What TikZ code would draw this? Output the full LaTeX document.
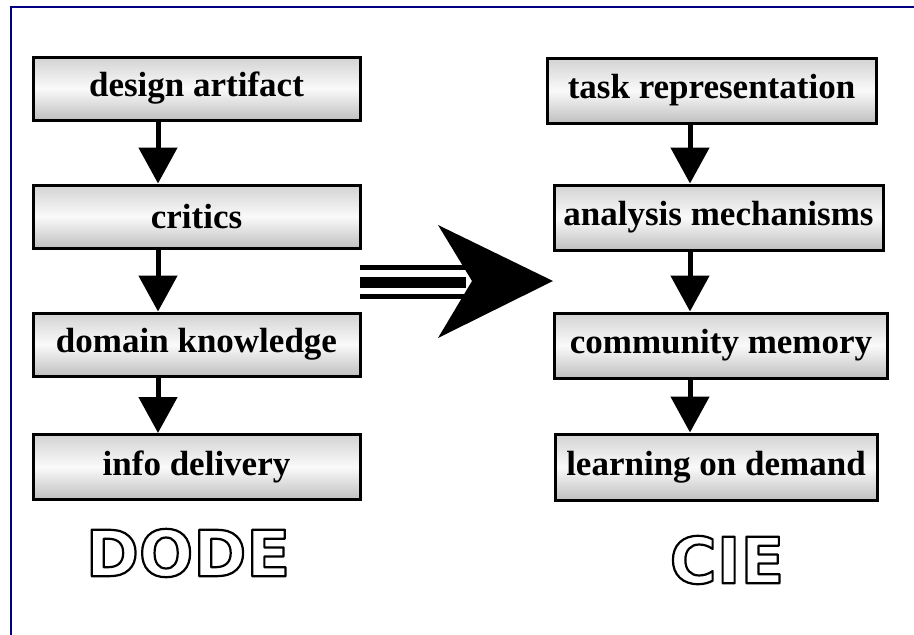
\documentclass[tikz,border=0pt]{standalone}
\usepackage{fontspec}
\setmainfont{Liberation Serif}
\newfontfamily\logofont{DejaVu Sans}
\usetikzlibrary{arrows.meta}
\definecolor{cadre}{RGB}{0,0,128}
\newcommand{\contourtexte}[1]{\special{pdf:literal direct 1 Tr 2.2 w 1 j}#1\special{pdf:literal direct 0 Tr}}
\tikzset{
  boite/.style={draw=black, line width=3pt, top color=gray!35, bottom color=gray!50,
    middle color=gray!4, inner sep=0pt, font=\bfseries\fontsize{35}{40}\selectfont},
  fleche/.style={line width=5pt, -{Triangle[length=36pt,width=38pt]}},
  logo/.style={font=\logofont\bfseries\fontsize{64}{70}\selectfont}
}
\begin{document}
\begin{tikzpicture}[x=1pt,y=-1pt]
    \useasboundingbox (0,0) rectangle (914,635);
    \draw[cadre, line width=2.5pt] (11,635) -- (11,7) -- (914,7);

    %colonne de gauche
    \node[boite, minimum width=327pt, minimum height=63pt] (artefact) at (196.5,88.5) {design artifact};
    \node[boite, minimum width=327pt, minimum height=63pt] (critiques) at (196.5,216.5) {critics};
    \node[boite, minimum width=327pt, minimum height=63pt] (domaine) at (196.5,344.5) {domain knowledge};
    \node[boite, minimum width=327pt, minimum height=65pt] (info) at (196.5,467) {info delivery};

    \coordinate (axeG) at (158,0);
    \draw[fleche] (artefact.south -| axeG) -- (critiques.north -| axeG);
    \draw[fleche] (critiques.south -| axeG) -- (domaine.north -| axeG);
    \draw[fleche] (domaine.south -| axeG) -- (info.north -| axeG);

    %colonne de droite
    \node[boite, minimum width=329pt, minimum height=65pt] (tache) at (711.5,90.5) {task representation};
    \node[boite, minimum width=329pt, minimum height=65pt] (analyse) at (718.5,217.5) {analysis mechanisms};
    \node[boite, minimum width=333pt, minimum height=65pt] (memoire) at (721,345.5) {community memory};
    \node[boite, minimum width=322pt, minimum height=66pt] (apprentissage) at (716,467) {learning on demand};

    \coordinate (axeD) at (690,0);
    \draw[fleche] (tache.south -| axeD) -- (analyse.north -| axeD);
    \draw[fleche] (analyse.south -| axeD) -- (memoire.north -| axeD);
    \draw[fleche] (memoire.south -| axeD) -- (apprentissage.north -| axeD);

    %grosse fleche
    \draw[line width=5pt] (360,267) -- (466,267);
    \draw[line width=11pt] (360,282) -- (466,282);
    \draw[line width=5pt] (360,296) -- (466,296);
    \fill (438,225) -- (553,281) -- (438,338) -- (472,281) -- cycle;

    \node[logo] (dode) at (188,553) {\contourtexte{DODE}};
    \node[logo] (cie) at (727,560) {\contourtexte{CIE}};
\end{tikzpicture}
\end{document}
